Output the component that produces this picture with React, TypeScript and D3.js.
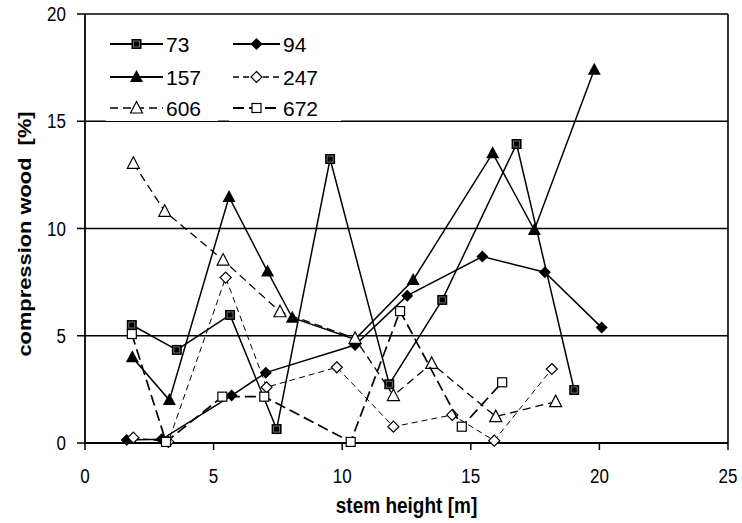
import * as d3 from 'd3'

// stem height [m] and compression wood [%] per tree
const h73 = [1.82, 3.57, 5.64, 7.45, 9.53, 11.83, 13.89, 16.78, 19.02]
const cw73 = [5.5, 4.34, 5.97, 0.65, 13.24, 2.74, 6.67, 13.94, 2.47]

const h94 = [1.62, 2.98, 5.7, 7.03, 10.5, 12.53, 15.45, 17.88, 20.09]
const cw94 = [0.14, 0.17, 2.21, 3.28, 4.57, 6.87, 8.69, 7.96, 5.38]

const h157 = [1.84, 3.28, 5.6, 7.1, 8.06, 10.5, 12.76, 15.85, 17.47, 19.8]
const cw157 = [4.0, 2.0, 11.47, 7.99, 5.84, 4.83, 7.6, 13.51, 9.93, 17.4]

const h247 = [1.88, 3.24, 5.47, 7.06, 9.79, 11.99, 14.28, 15.91, 18.15]
const cw247 = [0.25, 0.05, 7.71, 2.6, 3.53, 0.76, 1.31, 0.11, 3.45]

const h606 = [1.88, 3.1, 5.37, 7.58, 10.5, 11.99, 13.48, 15.97, 18.3]
const cw606 = [13.04, 10.8, 8.53, 6.12, 4.88, 2.21, 3.71, 1.23, 1.93]

const h672 = [1.82, 3.15, 5.34, 6.97, 10.33, 12.25, 14.65, 16.22]
const cw672 = [5.08, 0.05, 2.16, 2.16, 0.05, 6.15, 0.76, 2.83]

const xTicks = [0, 5, 10, 15, 20, 25]
const yTicks = [0, 5, 10, 15, 20]

type Marker = 'fsquare' | 'fdiamond' | 'ftriangle' | 'odiamond' | 'otriangle' | 'osquare'

const series = [
  { name: '73', xs: h73, ys: cw73, marker: 'fsquare' as Marker, dash: '', sw: 1.5 },
  { name: '94', xs: h94, ys: cw94, marker: 'fdiamond' as Marker, dash: '', sw: 1.5 },
  { name: '157', xs: h157, ys: cw157, marker: 'ftriangle' as Marker, dash: '', sw: 1.5 },
  { name: '247', xs: h247, ys: cw247, marker: 'odiamond' as Marker, dash: '6,4', sw: 1 },
  { name: '606', xs: h606, ys: cw606, marker: 'otriangle' as Marker, dash: '8,5', sw: 1.3 },
  { name: '672', xs: h672, ys: cw672, marker: 'osquare' as Marker, dash: '11,5', sw: 1.7 },
]

const W = 742
const H = 523
const m = { top: 14, right: 14, bottom: 80, left: 85 }
const FONT = '"Liberation Sans", Arial, sans-serif'
const SY = 1.15 // text in the original is a bit taller than wide

function Mark({ kind, x, y }: { kind: Marker; x: number; y: number }) {
  switch (kind) {
    case 'fsquare':
      return (
        <g>
          <rect x={x - 5} y={y - 5} width={10} height={10} fill="#000" />
          <rect x={x - 3} y={y - 3} width={6} height={6} fill="none" stroke="#888" strokeWidth={0.8} />
        </g>
      )
    case 'osquare':
      return <rect x={x - 4.5} y={y - 4.5} width={9} height={9} fill="#fff" stroke="#000" strokeWidth={1.2} />
    case 'fdiamond':
      return <path d={`M${x},${y - 6}L${x + 6},${y}L${x},${y + 6}L${x - 6},${y}Z`} fill="#000" />
    case 'odiamond':
      return <path d={`M${x},${y - 5.5}L${x + 5.5},${y}L${x},${y + 5.5}L${x - 5.5},${y}Z`} fill="#fff" stroke="#000" strokeWidth={1.2} />
    case 'ftriangle':
      return <path d={`M${x},${y - 7}L${x + 6.5},${y + 5}L${x - 6.5},${y + 5}Z`} fill="#000" />
    case 'otriangle':
      return <path d={`M${x},${y - 6.5}L${x + 6},${y + 5}L${x - 6},${y + 5}Z`} fill="#fff" stroke="#000" strokeWidth={1.2} />
  }
}

export default function App() {
  const innerW = W - m.left - m.right
  const innerH = H - m.top - m.bottom
  const x = d3.scaleLinear().domain([0, 25]).range([m.left, m.left + innerW])
  const y = d3.scaleLinear().domain([0, 20]).range([m.top + innerH, m.top])

  const line = d3.line<[number, number]>().x(d => x(d[0])).y(d => y(d[1]))

  const legendCols = [{ x: 110, len: 53 }, { x: 233, len: 47 }]
  const legendRows = [44, 77, 108]

  return (
    <svg width={W} height={H} style={{ position: 'absolute', left: 0, top: 0, background: '#fff' }} fontFamily={FONT}>
      {/* gridlines */}
      {yTicks.filter(t => t > 0).map(t => (
        <line key={t} x1={x(0)} x2={x(25)} y1={y(t)} y2={y(t)} stroke="#000" strokeWidth={1.3} />
      ))}
      {/* frame */}
      <line x1={x(25)} x2={x(25)} y1={y(0)} y2={y(20)} stroke="#000" strokeWidth={1.6} />
      <line x1={x(0)} x2={x(0)} y1={y(0)} y2={y(20)} stroke="#000" strokeWidth={1.8} />
      <line x1={x(0)} x2={x(25)} y1={y(0)} y2={y(0)} stroke="#000" strokeWidth={2} />
      {/* ticks */}
      {yTicks.map(t => (
        <g key={t}>
          <line x1={x(0) - 8} x2={x(0)} y1={y(t)} y2={y(t)} stroke="#000" strokeWidth={1.5} />
          <text transform={`translate(66,${y(t)}) scale(1,${SY})`} dy="0.36em" textAnchor="end" fontSize={17}>{t}</text>
        </g>
      ))}
      {xTicks.map(t => (
        <g key={t}>
          <line x1={x(t)} x2={x(t)} y1={y(0)} y2={y(0) + 7} stroke="#000" strokeWidth={1.5} />
          <text transform={`translate(${x(t)},${y(0) + 40}) scale(1,${SY})`} textAnchor="middle" fontSize={17}>{t}</text>
        </g>
      ))}
      {/* axis titles */}
      <text transform={`translate(${x(12.5)},513) scale(1,${SY})`} textAnchor="middle" fontSize={19} fontWeight="bold">
        stem height [m]
      </text>
      <text
        transform={`translate(31,234) rotate(-90) scale(${SY},1)`}
        textAnchor="middle"
        fontSize={19}
        fontWeight="bold"
        style={{ whiteSpace: 'pre' }}
      >
        {'compression wood  [%]'}
      </text>
      {/* series */}
      {series.map(s => (
        <g key={s.name}>
          <path
            d={line(s.xs.map((v, i) => [v, s.ys[i]] as [number, number])) || ''}
            fill="none"
            stroke="#000"
            strokeWidth={s.sw}
            strokeDasharray={s.dash || undefined}
          />
          {s.xs.map((v, i) => (
            <Mark key={i} kind={s.marker} x={x(v)} y={y(s.ys[i])} />
          ))}
        </g>
      ))}
      {/* legend */}
      {series.map((s, i) => {
        const col = legendCols[i % 2]
        const ly = legendRows[Math.floor(i / 2)]
        return (
          <g key={s.name}>
            <rect x={col.x - 4} y={ly - 13} width={112} height={26} fill="#fff" />
            <line x1={col.x} x2={col.x + col.len} y1={ly} y2={ly} stroke="#000" strokeWidth={s.sw + 0.3} strokeDasharray={s.dash || undefined} />
            <Mark kind={s.marker} x={col.x + col.len / 2} y={ly} />
            <text x={col.x + col.len + 3} y={ly} dy="0.36em" fontSize={21}>{s.name}</text>
          </g>
        )
      })}
    </svg>
  )
}
